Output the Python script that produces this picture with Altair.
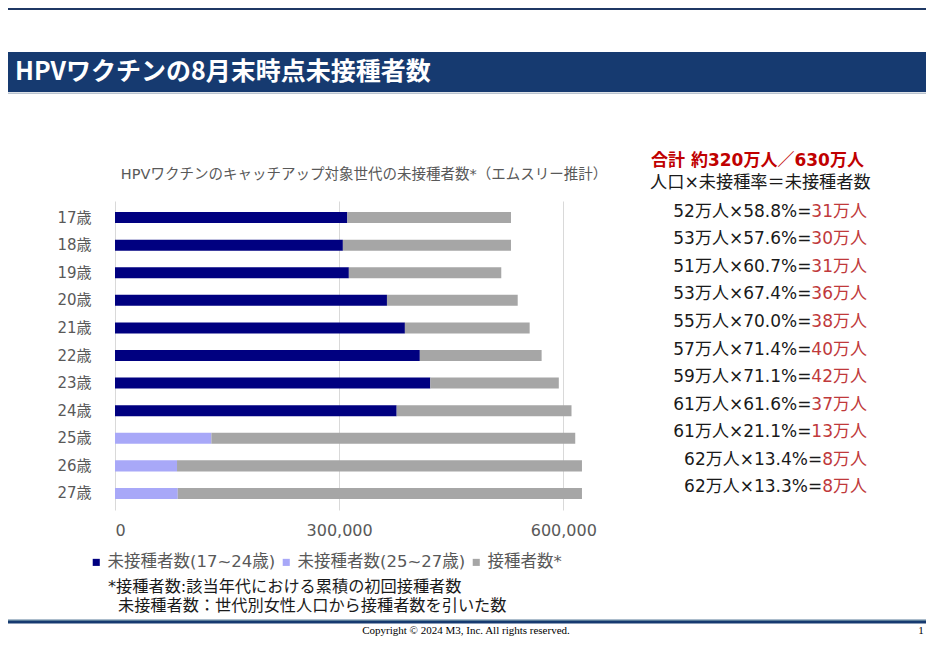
import altair as alt
import pandas as pd

# ---------------- data ----------------
ages = ["17歳", "18歳", "19歳", "20歳", "21歳", "22歳", "23歳", "24歳", "25歳", "26歳", "27歳"]
unvaccinated = [311000, 305000, 313000, 364000, 388000, 408000, 422000, 377000, 129000, 83000, 84000]
vaccinated = [219000, 225000, 204000, 175000, 167000, 163000, 172000, 234000, 487000, 542000, 541000]
categories = ["未接種者数(17~24歳)", "未接種者数(25~27歳)", "接種者数*"]
cat_colors = ["#000080", "#A8A8F8", "#A6A6A6"]

population = ["52", "53", "51", "53", "55", "57", "59", "61", "61", "62", "62"]
rates = ["58.8", "57.6", "60.7", "67.4", "70.0", "71.4", "71.1", "61.6", "21.1", "13.4", "13.3"]
results = ["31", "30", "31", "36", "38", "40", "42", "37", "13", "8", "8"]

page_title = "HPVワクチンの8月末時点未接種者数"
chart_title = "HPVワクチンのキャッチアップ対象世代の未接種者数*（エムスリー推計）"
total_text = "合計 約320万人／630万人"
formula_text = "人口×未接種率＝未接種者数"
note1 = "*接種者数:該当年代における累積の初回接種者数"
note2 = "未接種者数：世代別女性人口から接種者数を引いた数"
copyright_text = "Copyright © 2024  M3, Inc. All rights reserved."
page_no = "1"
x_ticks = [0, 300000, 600000]

# ---------------- tables ----------------
rows = []
for i, a in enumerate(ages):
    cat = categories[0] if i < 8 else categories[1]
    rows.append({"age": a, "category": cat, "value": unvaccinated[i], "rank": 0})
    rows.append({"age": a, "category": categories[2], "value": vaccinated[i], "rank": 1})
bars_df = pd.DataFrame(rows)

MIX = "'DejaVu Sans', 'Noto Sans CJK JP'"
CJK = "'Noto Sans CJK JP'"
GRAY_TXT = "#595959"
FS_ROW = 17
RIGHT_EDGE = 752  # relative to plot origin

text_rows = []
for i, a in enumerate(ages):
    w_red = len(results[i]) * 0.636 * FS_ROW + 2 * FS_ROW
    text_rows.append({
        "age": a,
        "black": f"{population[i]}万人×{rates[i]}%=",
        "red": f"{results[i]}万人",
        "xb": RIGHT_EDGE - w_red,
    })
text_df = pd.DataFrame(text_rows)

one = pd.DataFrame({"k": [0]})

y_enc = alt.Y("age:N", sort=ages,
              scale=alt.Scale(paddingInner=0.6, paddingOuter=0.4),
              axis=alt.Axis(title=None, domain=False, ticks=False, grid=False,
                            labelFont=MIX, labelFontSize=15, labelColor=GRAY_TXT,
                            labelPadding=24))

bars = alt.Chart(bars_df).mark_bar().encode(
    x=alt.X("value:Q", stack="zero",
            scale=alt.Scale(domain=[0, 700000], nice=False),
            axis=alt.Axis(title=None, values=x_ticks, format=",d", domain=False,
                          ticks=False, grid=True, gridColor="#D9D9D9",
                          labelFont="DejaVu Sans", labelFontSize=16,
                          labelColor=GRAY_TXT, labelPadding=12)),
    y=y_enc,
    color=alt.Color("category:N",
                    scale=alt.Scale(domain=categories, range=cat_colors),
                    legend=alt.Legend(title=None, orient="none", legendX=-27, legendY=353,
                                      direction="horizontal", columns=3,
                                      symbolType="square", symbolSize=50,
                                      symbolStrokeWidth=0, symbolOpacity=1,
                                      labelFont=MIX, labelFontSize=16.5,
                                      labelColor=GRAY_TXT, labelOffset=3,
                                      columnPadding=2, padding=0, labelLimit=0)),
    order=alt.Order("rank:Q"),
)

row_black = alt.Chart(text_df).mark_text(
    align="right", baseline="middle", dy=-6, font=MIX, fontSize=FS_ROW, color="#1A1A1A"
).encode(y=alt.Y("age:N", sort=ages), x=alt.X("xb:Q", scale=None), text="black:N")

row_red = alt.Chart(text_df).mark_text(
    align="right", baseline="middle", dy=-6, font=MIX, fontSize=FS_ROW, color="#C0393B"
).encode(y=alt.Y("age:N", sort=ages), x=alt.value(RIGHT_EDGE), text="red:N")


def label(t, x, y, size, color="#000000", font=MIX, weight="normal", align="left"):
    return alt.Chart(one).mark_text(
        text=t, align=align, baseline="middle", font=font, fontSize=size,
        fontWeight=weight, color=color
    ).encode(x=alt.value(x), y=alt.value(y))


def band(x1, x2, y1, y2, color):
    return alt.Chart(one).mark_rect(color=color).encode(
        x=alt.value(x1), x2=alt.value(x2), y=alt.value(y1), y2=alt.value(y2))


# plot origin is at page (115, 201); the drawing spans page x 8..926, y 8..639
decor = [
    band(-107, 811, -193, -191, "#1F3864"),
    band(-107, 811, -149, -109, "#163A70"),
    band(-107, 811, -108.5, -107, "#B9C3CF"),
    band(-107, 811, 418.5, 420, "#5B7D99"),
    band(-107, 811, 420, 422.5, "#163A70"),
]

texts = [
    label(page_title, -100, -129, 25, color="#FFFFFF", font=CJK, weight="bold"),
    label(chart_title, 249, -26, 14.5, color=GRAY_TXT, align="center"),
    label(total_text, 536, -40, 17, color="#C00000", weight="bold"),
    label(formula_text, 535, -18, 17.2, color="#1A1A1A"),
    label(note1, -7, 386, 16.2, color="#1A1A1A"),
    label(note2, 3, 405, 16.2, color="#1A1A1A"),
    label(copyright_text, 351, 430, 11, font="Liberation Serif", align="center"),
    label(page_no, 806, 430, 11, font="Liberation Serif", align="center"),
]

chart = alt.layer(*decor, bars, row_black, row_red, *texts).properties(
    width=523, height=309,
    autosize=alt.AutoSizeParams(type="none"),
    padding={"left": 107, "top": 193, "right": 288, "bottom": 129},
    background="#FFFFFF",
).configure_view(stroke=None)

chart.save("out.html", embed_options={"renderer": "svg", "actions": False})
